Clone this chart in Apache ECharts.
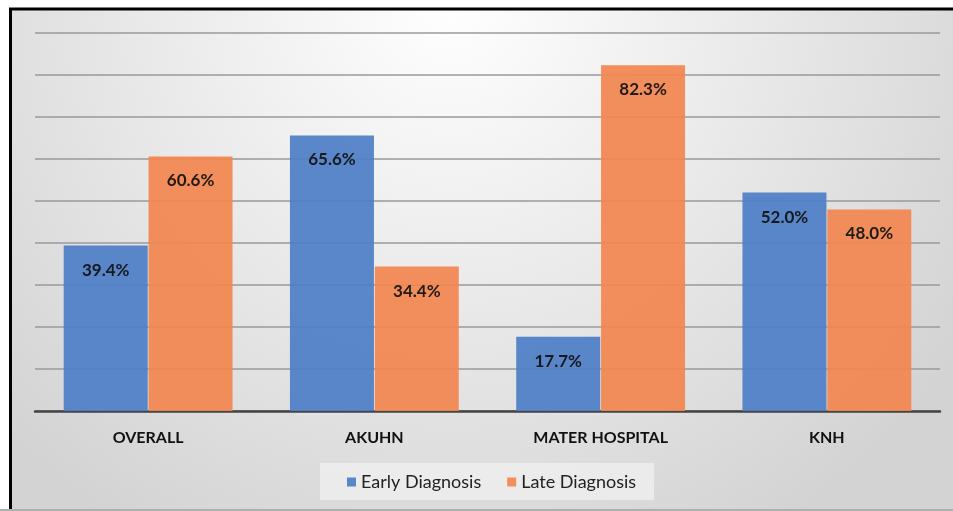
<!DOCTYPE html>
<html><head><meta charset="utf-8">
<script src="https://cdn.jsdelivr.net/npm/echarts@6/dist/echarts.min.js"></script>
<style>html,body{margin:0;padding:0;background:#fff;overflow:hidden}#c{width:953px;height:511px}</style>
</head><body><div id="c"></div>
<script>
const categories = ['OVERALL', 'AKUHN', 'MATER HOSPITAL', 'KNH'];
const earlyDiagnosis = [39.4, 65.6, 17.7, 52.0];
const lateDiagnosis = [60.6, 34.4, 82.3, 48.0];
const seriesNames = ['Early Diagnosis', 'Late Diagnosis'];

const chart = echarts.init(document.getElementById('c'));
const labelOpt = {
  show: true, position: 'insideTop', distance: 16,
  formatter: p => p.value.toFixed(1) + '%',
  color: '#111', fontWeight: 'bold', fontSize: 17, fontFamily: 'Lato'
};
chart.setOption({
  animation: false,
  graphic: [{
    type: 'rect', z: -10, silent: true,
    shape: { x: 10.5, y: 9, width: 1100, height: 600 },
    style: {
      stroke: '#000', lineWidth: 3,
      fill: new echarts.graphic.RadialGradient(450, 0, 620, [
        { offset: 0, color: '#ffffff' },
        { offset: 1, color: '#d3d3d3' }
      ], true)
    }
  }, {
    type: 'rect', z: -9, silent: true,
    shape: { x: 0, y: 509, width: 953, height: 2 },
    style: { fill: '#b0b0b0' }
  }],
  grid: { left: 35, right: 13, top: 33, bottom: 100, containLabel: false },
  legend: {
    data: seriesNames,
    left: 320, top: 463,
    padding: [10, 18, 9, 27],
    backgroundColor: 'rgba(240,240,240,0.75)',
    itemWidth: 9, itemHeight: 9, itemGap: 26,
    icon: 'rect',
    textStyle: { fontFamily: 'Lato', fontSize: 18, color: '#222' }
  },
  xAxis: {
    type: 'category', data: categories,
    axisLine: { lineStyle: { color: '#444', width: 2.5 } },
    axisTick: { show: false },
    axisLabel: { fontFamily: 'Lato', fontWeight: 'bold', fontSize: 16, color: '#111', margin: 19 }
  },
  yAxis: {
    type: 'value', min: 0, max: 90, interval: 10,
    axisLabel: { show: false }, axisLine: { show: false }, axisTick: { show: false },
    splitLine: { lineStyle: { color: '#9a9a9a', width: 1.5 } }
  },
  series: [
    { name: seriesNames[0], type: 'bar', data: earlyDiagnosis, barWidth: 84, barGap: '1%',
      itemStyle: { color: '#4f7fc6', opacity: 0.93 }, label: labelOpt },
    { name: seriesNames[1], type: 'bar', data: lateDiagnosis, barWidth: 84, barGap: '1%',
      itemStyle: { color: '#f28650', opacity: 0.93 }, label: labelOpt }
  ]
});
</script></body></html>
